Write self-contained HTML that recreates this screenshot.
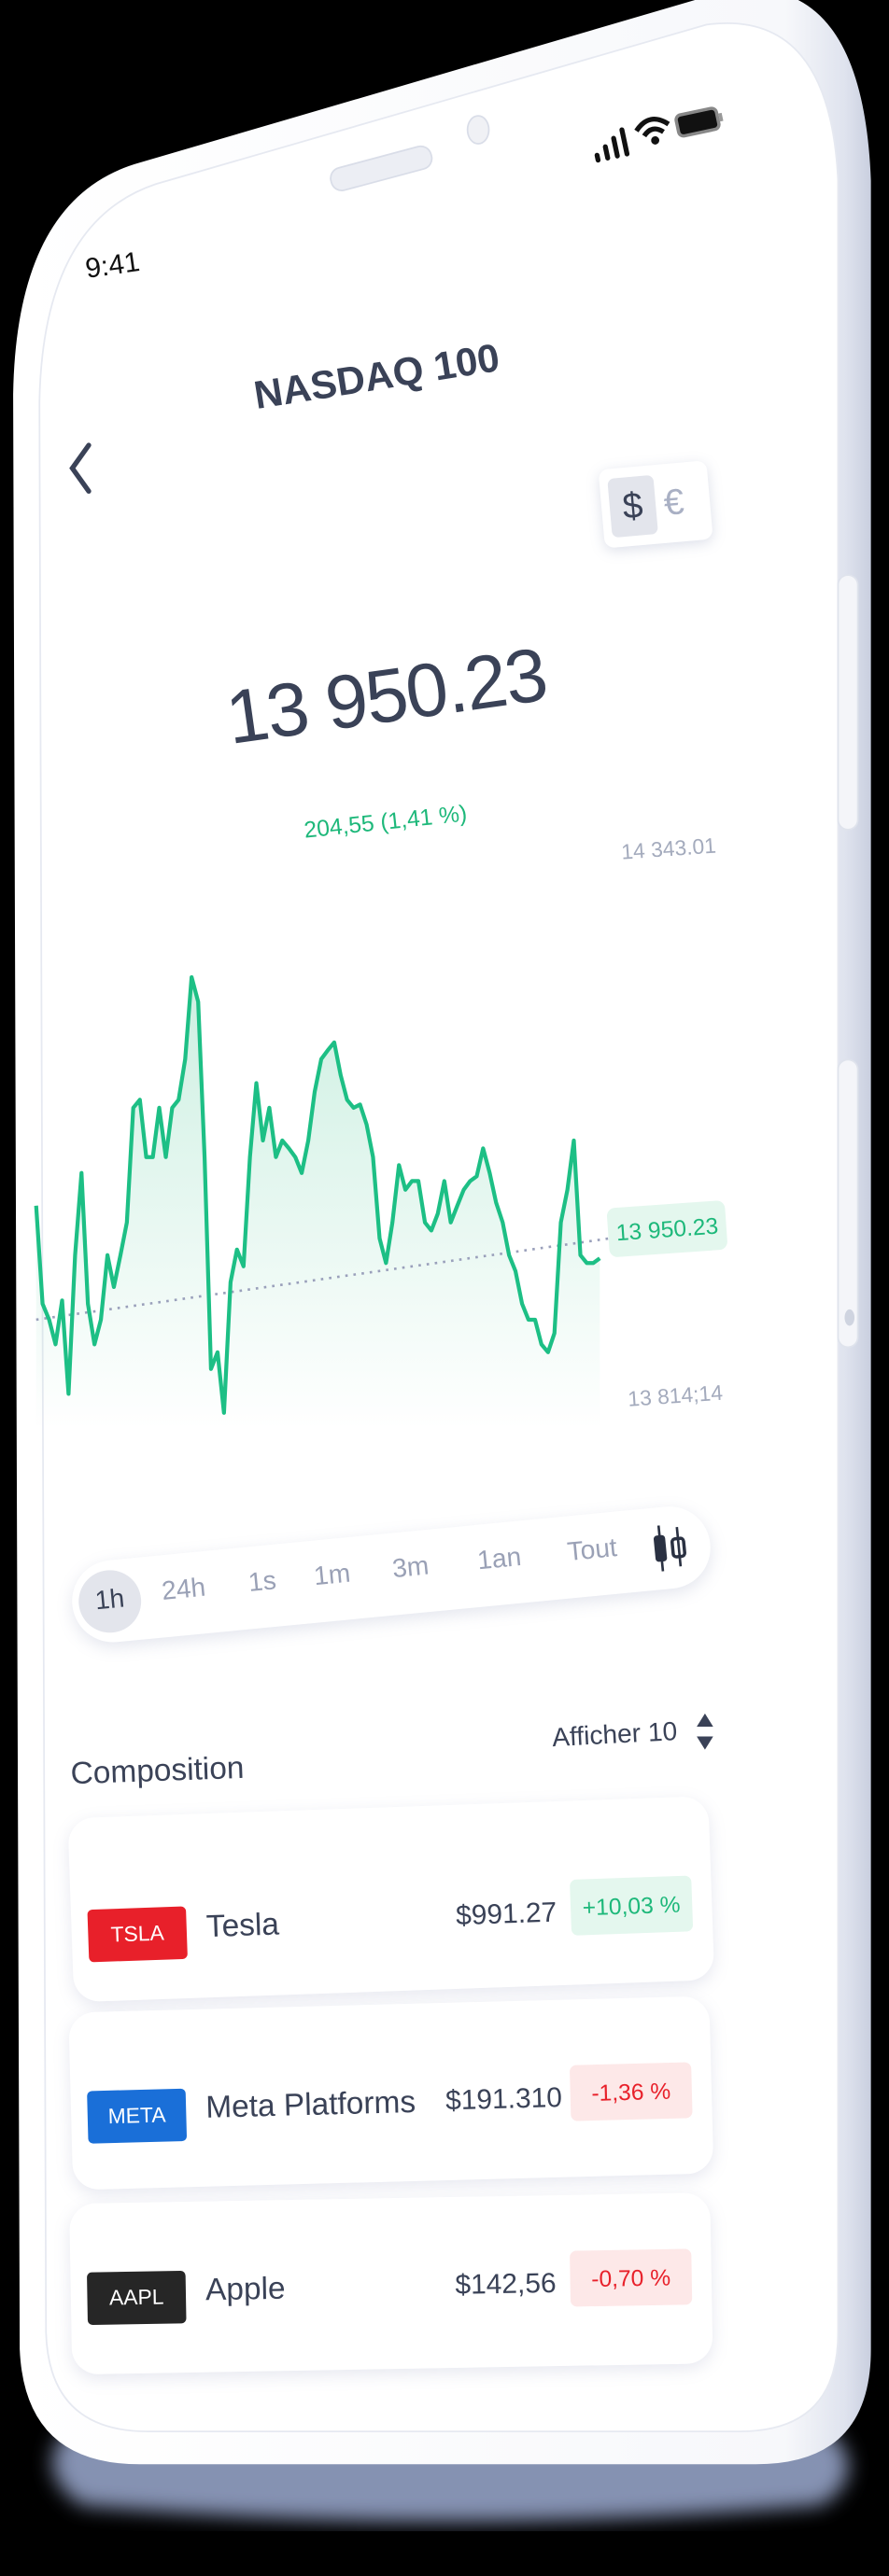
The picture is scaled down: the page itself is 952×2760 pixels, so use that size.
<!DOCTYPE html>
<html><head><meta charset="utf-8">
<style>
html,body{margin:0;padding:0;background:#000;}
body{width:952px;height:2760px;overflow:hidden;position:relative;font-family:"Liberation Sans",sans-serif;}
#stage{position:absolute;left:0;top:0;width:541px;height:1568px;transform:scale(1.7597,1.7602);transform-origin:0 0;}
.abs{position:absolute;white-space:nowrap;}
.dark{color:#3a4257;}
.card{position:absolute;background:#fff;border-radius:16px;box-shadow:0 3px 10px rgba(120,130,170,0.18);}
.tick{position:absolute;color:#fff;font-size:13px;text-align:center;line-height:32px;border-radius:3px;}
.chg{position:absolute;font-size:14px;text-align:center;line-height:34px;border-radius:4px;}
</style></head>
<body>
<div id="stage">
<svg class="abs" style="left:0;top:0" width="541" height="1568">
  <defs>
    <linearGradient id="side" x1="0" x2="1" y1="0" y2="0">
      <stop offset="0" stop-color="#ffffff"/><stop offset="0.9" stop-color="#f7f8fb"/><stop offset="0.97" stop-color="#dfe3ee"/><stop offset="1" stop-color="#c9cfdf"/>
    </linearGradient>
    <filter id="blur"><feGaussianBlur stdDeviation="6"/></filter>
  </defs>
  <path d="M40,1480 L505,1480 Q530,1505 500,1525 Q270,1545 50,1525 Q20,1505 40,1480 Z" fill="#8592b2" filter="url(#blur)"/>
  <path d="M85,99 L440,-5 Q525,-20 530,110 L530,1430 Q530,1500 460,1500 L85,1500 Q15,1500 12,1430 L8,240 Q10,120 85,99 Z" fill="url(#side)"/>
  <path d="M95,112 L430,15 Q505,5 510,110 L510,1420 Q510,1480 450,1480 L90,1480 Q30,1480 28,1420 L24,245 Q26,135 95,112 Z" fill="#fff" stroke="#e6e9f1" stroke-width="1"/>
  <rect x="510" y="350" width="12" height="155" rx="6" fill="#f4f5f9" stroke="#dfe3ec"/>
  <rect x="510" y="645" width="12" height="175" rx="6" fill="#f4f5f9" stroke="#dfe3ec"/>
  <ellipse cx="517" cy="802" rx="3" ry="5" fill="#cfd4e0"/>
</svg>

<div class="abs" style="left:52px;top:152px;font-size:17px;color:#111;transform:rotate(-8deg)">9:41</div>
<div class="abs" style="left:200px;top:95px;width:62px;height:13px;border-radius:7px;background:#eceef4;border:1px solid #d9dde8;transform:rotate(-15deg)"></div>
<div class="abs" style="left:284px;top:70px;width:12px;height:16px;border-radius:50%;background:#f0f1f5;border:1px solid #d9dde8"></div>
<svg class="abs" style="left:355px;top:55px" width="90" height="45">
  <g fill="#111" transform="rotate(-12 45 22)">
    <rect x="4" y="30" width="3" height="6" rx="1.5"/><rect x="10" y="26" width="3" height="10" rx="1.5"/><rect x="16" y="22" width="3" height="14" rx="1.5"/><rect x="22" y="18" width="3" height="18" rx="1.5"/>
    <path d="M32,22 Q42,12 52,22" stroke="#111" stroke-width="3" fill="none"/><path d="M36,26 Q42,20 48,26" stroke="#111" stroke-width="3" fill="none"/><circle cx="42" cy="30" r="2.5"/>
    <rect x="57" y="18" width="25" height="13" rx="3" fill="#111" stroke="#888" stroke-width="2"/><rect x="83" y="22" width="2" height="5" fill="#999"/>
  </g>
</svg>

<svg class="abs" style="left:38px;top:265px" width="24" height="40"><path d="M16,6 L6,20 L16,34" stroke="#3a4257" stroke-width="3" fill="none" stroke-linecap="round"/></svg>
<div class="abs dark" style="left:155px;top:228px;font-size:24px;font-weight:bold;transform:rotate(-9deg);transform-origin:left">NASDAQ 100</div>

<div class="abs" style="left:366px;top:283px;width:66px;height:48px;background:#fff;border-radius:6px;box-shadow:0 2px 8px rgba(120,130,170,0.25);transform:rotate(-5deg)">
  <div class="abs" style="left:5px;top:6px;width:28px;height:36px;background:#e3e5ec;border-radius:4px;text-align:center;line-height:36px;font-size:22px;color:#3a4257">$</div>
  <div class="abs" style="left:38px;top:6px;width:24px;line-height:36px;font-size:22px;color:#a9b0c4">€</div>
</div>

<div class="abs dark" style="left:138px;top:410px;font-size:46px;letter-spacing:-1px;transform:rotate(-8deg);transform-origin:left">13 950.23</div>
<div class="abs" style="left:185px;top:497px;font-size:14px;color:#1db87a;transform:rotate(-6deg);transform-origin:left">204,55 (1,41 %)</div>
<div class="abs" style="left:378px;top:509px;font-size:13px;color:#a4abbd;transform:rotate(-4deg)">14 343.01</div>
<div class="abs" style="left:382px;top:842px;font-size:13px;color:#a4abbd;transform:rotate(-4deg)">13 814;14</div>

<svg id="chart" class="abs" style="left:0;top:560px" width="541" height="320">
  <defs><linearGradient id="area" x1="0" x2="0" y1="0" y2="1"><stop offset="0" stop-color="#1db87a" stop-opacity="0.22"/><stop offset="1" stop-color="#1db87a" stop-opacity="0"/></linearGradient></defs>
</svg>
<div class="abs" style="left:370px;top:733px;width:72px;height:30px;background:#e4f7ee;border-radius:5px;color:#1db87a;font-size:14px;line-height:30px;text-align:center;transform:rotate(-4deg)">13 950.23</div>

<div class="abs" style="left:44px;top:952px;width:390px;height:50px;background:#fff;border-radius:25px;box-shadow:0 3px 10px rgba(120,130,170,0.2);transform:rotate(-5.5deg);transform-origin:left">
  <div class="abs" style="left:4px;top:6px;width:38px;height:38px;background:#e3e5ec;border-radius:19px;font-size:16px;color:#3a4257;text-align:center;line-height:38px">1h</div>
  <div class="abs" style="left:55px;top:14px;font-size:16px;color:#9aa1b6">24h</div>
  <div class="abs" style="left:108px;top:14px;font-size:16px;color:#9aa1b6">1s</div>
  <div class="abs" style="left:148px;top:14px;font-size:16px;color:#9aa1b6">1m</div>
  <div class="abs" style="left:196px;top:14px;font-size:16px;color:#9aa1b6">3m</div>
  <div class="abs" style="left:248px;top:14px;font-size:16px;color:#9aa1b6">1an</div>
  <div class="abs" style="left:303px;top:14px;font-size:16px;color:#9aa1b6">Tout</div>
  <svg class="abs" style="left:352px;top:8px" width="26" height="34"><g fill="#2a3142"><rect x="4" y="9" width="7" height="16" rx="2"/><rect x="7" y="3" width="1.5" height="28"/><rect x="15" y="12" width="7" height="11" rx="2" fill="none" stroke="#2a3142" stroke-width="2"/><rect x="18" y="5" width="1.5" height="24"/></g></svg>
</div>

<div class="abs dark" style="left:336px;top:1048px;font-size:16px;transform:rotate(-3deg)">Afficher 10</div>
<svg class="abs" style="left:421px;top:1040px" width="16" height="28"><path d="M3,11 L8,3 L13,11 Z M3,17 L8,25 L13,17 Z" fill="#3a4257"/></svg>
<div class="abs dark" style="left:43px;top:1068px;font-size:19px;transform:rotate(-2deg)">Composition</div>

<div class="card" style="left:43px;top:1100px;width:390px;height:112px;transform:rotate(-2deg)">
  <div class="tick" style="left:10px;top:56px;width:60px;background:#e8202a">TSLA</div>
  <div class="abs dark" style="left:82px;top:59px;font-size:19px">Tesla</div>
  <div class="abs dark" style="left:234px;top:58px;font-size:17px">$991.27</div>
  <div class="chg" style="left:304px;top:48px;width:74px;background:#e4f7ee;color:#1db87a">+10,03 %</div>
</div>
<div class="card" style="left:43px;top:1220px;width:390px;height:108px;transform:rotate(-1.5deg)">
  <div class="tick" style="left:10px;top:48px;width:60px;background:#1a6fd8">META</div>
  <div class="abs dark" style="left:82px;top:50px;font-size:19px">Meta Platforms</div>
  <div class="abs dark" style="left:228px;top:50px;font-size:17px">$191.310</div>
  <div class="chg" style="left:304px;top:40px;width:74px;background:#fde8e8;color:#e8202a">-1,36 %</div>
</div>
<div class="card" style="left:43px;top:1338px;width:390px;height:104px;transform:rotate(-1deg)">
  <div class="tick" style="left:10px;top:42px;width:60px;background:#262626">AAPL</div>
  <div class="abs dark" style="left:82px;top:44px;font-size:19px">Apple</div>
  <div class="abs dark" style="left:234px;top:44px;font-size:17px">$142,56</div>
  <div class="chg" style="left:304px;top:34px;width:74px;background:#fde8e8;color:#e8202a">-0,70 %</div>
</div>
</div>

<script>
const prices = [14040,13917,13897,13866,13921,13804,13978,14081,13917,13866,13897,13978,13938,13978,14019,14163,14173,14101,14101,14163,14101,14163,14173,14224,14327,14296,14101,13835,13856,13780,13944,13985,13964,14101,14194,14122,14163,14101,14122,14112,14101,14081,14122,14183,14224,14235,14245,14204,14173,14163,14167,14142,14101,13999,13968,14019,14091,14060,14071,14071,14019,14009,14030,14071,14019,14040,14060,14071,14077,14112,14081,14044,14019,13978,13958,13917,13897,13897,13866,13856,13880,14019,14060,14122,13978,13968,13968,13974];
const refStart = 13897;
const refEnd = 13999;
const yDomain = [13780, 14343];
const svg = document.getElementById('chart');
const NS = 'http://www.w3.org/2000/svg';
const x0 = 22, x1 = 365, yTop = 27, yBot = 300;
function xs(i){ return x0 + (x1 - x0) * i / (prices.length - 1); }
function ys(v){ return yBot - (v - yDomain[0]) / (yDomain[1] - yDomain[0]) * (yBot - yTop); }
let d = '';
prices.forEach((v,i)=>{ d += (i ? 'L' : 'M') + xs(i).toFixed(1) + ',' + ys(v).toFixed(1); });
const area = document.createElementNS(NS,'path');
area.setAttribute('d', d + 'L' + xs(prices.length-1) + ',' + (yBot+10) + 'L' + x0 + ',' + (yBot+10) + 'Z');
area.setAttribute('fill','url(#area)');


svg.appendChild(area);
const ref = document.createElementNS(NS,'line');
ref.setAttribute('x1', x0); ref.setAttribute('y1', ys(refStart));
ref.setAttribute('x2', x1 + 6); ref.setAttribute('y2', ys(refEnd));
ref.setAttribute('stroke','#9aa0bb'); ref.setAttribute('stroke-width','1.5'); ref.setAttribute('stroke-dasharray','1.5 3.5');


svg.appendChild(ref);
const line = document.createElementNS(NS,'path');
line.setAttribute('d', d);
line.setAttribute('fill','none'); line.setAttribute('stroke','#1dbf85'); line.setAttribute('stroke-width','2.4'); line.setAttribute('stroke-linejoin','round');


svg.appendChild(line);
</script>
</body></html>
